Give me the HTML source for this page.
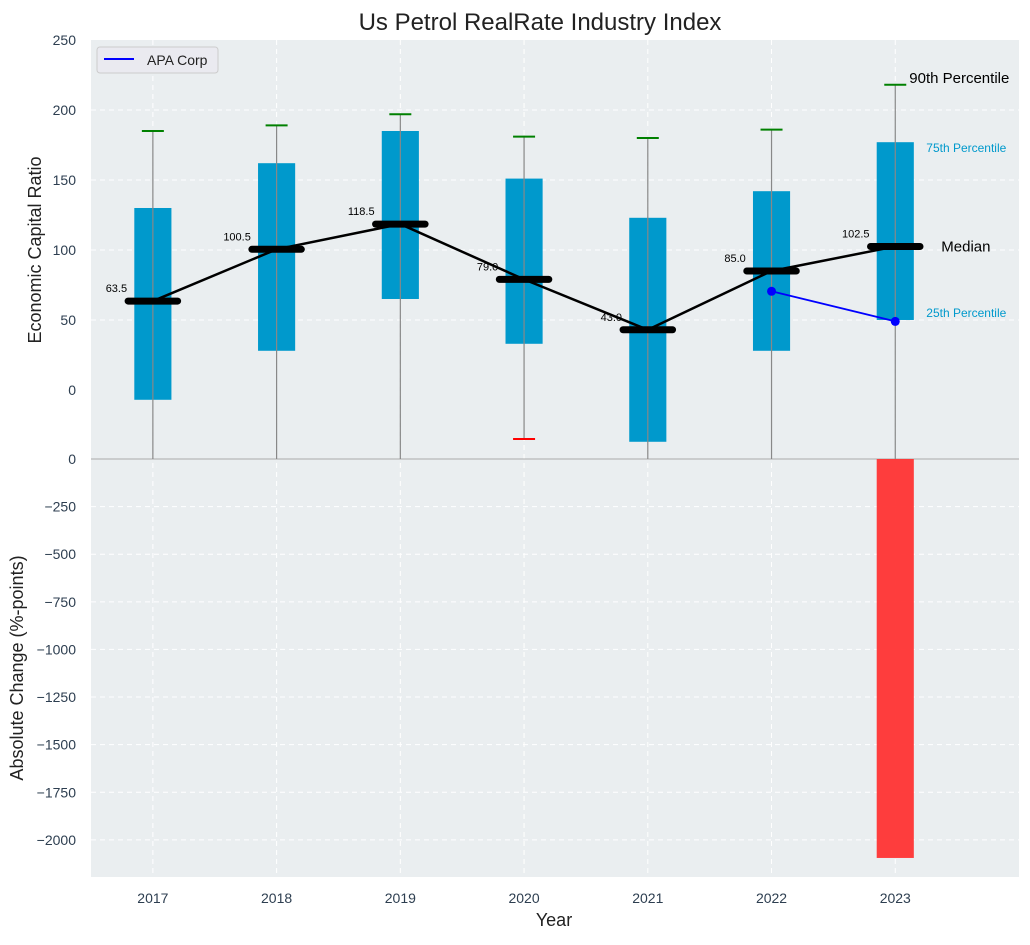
<!DOCTYPE html>
<html><head><meta charset="utf-8"><style>
body{margin:0;background:#fff;font-family:"Liberation Sans",sans-serif}
svg text{font-family:"Liberation Sans",sans-serif}
</style></head><body>
<svg id="chart" width="1030" height="940" viewBox="0 0 1030 940">
<text x="540" y="30" font-size="24" text-anchor="middle" fill="#222">Us Petrol RealRate Industry Index</text>
</svg>
<script>
const years=['2017','2018','2019','2020','2021','2022','2023'];
const medians=[63.5,100.5,118.5,79.0,43.0,85.0,102.5];
const q25=[-7,28,65,33,-37,28,50];
const q75=[130,162,185,151,123,142,177];
const p90=[185,189,197,181,180,186,218];
const p10=[-60,-60,-60,-35,-60,-60,-60];
const apaYears=[5,6];
const apaValues=[70.5,49];
const changeValues=[0,0,0,0,0,0,-2095];
const topTicks=[0,50,100,150,200,250];
const botTicks=[0,-250,-500,-750,-1000,-1250,-1500,-1750,-2000];

const NS='http://www.w3.org/2000/svg';
const svg=document.getElementById('chart');
function el(tag,attrs,parent){const e=document.createElementNS(NS,tag);for(const k in attrs)e.setAttribute(k,attrs[k]);(parent||svg).appendChild(e);return e;}
const L=91,R=1019;
const X=i=>L+(i+0.5)/7.5*(R-L);
const TT=40,TB=459;
const Yt=v=>TT+(250-v)/(250-(-49.3))*(TB-TT);
const BT=459,BB=877;
const Yb=v=>BT+(0-v)/(2195)*(BB-BT);

let r=el('rect',{x:L,y:TT,width:R-L,height:TB-TT,fill:'#eaeef0'});

r=el('rect',{x:L,y:BT,width:R-L,height:BB-BT,fill:'#eaeef0'});


topTicks.forEach(t=>{
  if(t>0&&t<250) el('line',{x1:L,x2:R,y1:Yt(t),y2:Yt(t),stroke:'#fff','stroke-dasharray':'5,4','stroke-width':1});
  const tx=el('text',{x:76,y:Yt(t)+5,'font-size':14,'text-anchor':'end',fill:'#2d3e50'});tx.textContent=t;
  
});
botTicks.forEach(t=>{
  if(t<0) el('line',{x1:L,x2:R,y1:Yb(t),y2:Yb(t),stroke:'#fff','stroke-dasharray':'5,4','stroke-width':1});
  const tx=el('text',{x:76,y:Yb(t)+5,'font-size':14,'text-anchor':'end',fill:'#2d3e50'});tx.textContent=t<0?'\u2212'+(-t):'0';
  
});
years.forEach((y,i)=>{
  el('line',{x1:X(i),x2:X(i),y1:TT,y2:BB,stroke:'#fff','stroke-dasharray':'5,4','stroke-width':1});
  const tx=el('text',{x:X(i),y:903,'font-size':14,'text-anchor':'middle',fill:'#2d3e50'});tx.textContent=y;
  
});
el('line',{x1:L,x2:R,y1:TB,y2:TB,stroke:'#aaa','stroke-width':1});

years.forEach((y,i)=>{
  const g=el('g',{});
  
  const bw=0.3/7.5*(R-L);
  el('rect',{x:X(i)-bw/2,y:Yt(q75[i]),width:bw,height:Yt(q25[i])-Yt(q75[i]),fill:'#0099cc'},g);
  const lo=Math.max(p10[i],-49.3);
  el('line',{x1:X(i),x2:X(i),y1:Yt(p90[i]),y2:Yt(lo),stroke:'#888','stroke-width':1.2},g);
  el('line',{x1:X(i)-11,x2:X(i)+11,y1:Yt(p90[i]),y2:Yt(p90[i]),stroke:'green','stroke-width':2},g);
  if(p10[i]>-49.3) el('line',{x1:X(i)-11,x2:X(i)+11,y1:Yt(p10[i]),y2:Yt(p10[i]),stroke:'red','stroke-width':2},g);
});
const pts=medians.map((m,i)=>X(i)+','+Yt(m)).join(' ');
let pl=el('polyline',{points:pts,fill:'none',stroke:'#000','stroke-width':2.5});

medians.forEach((m,i)=>{
  const hw=0.2/7.5*(R-L);
  const ln=el('line',{x1:X(i)-hw,x2:X(i)+hw,y1:Yt(m),y2:Yt(m),stroke:'#000','stroke-width':7,'stroke-linecap':'round'});
  
  const tx=el('text',{x:X(i)-hw-1,y:Yt(m)-9,'font-size':11,'text-anchor':'end',fill:'#000'});tx.textContent=m.toFixed(1);
  
});
const apts=apaYears.map((k,j)=>X(k)+','+Yt(apaValues[j])).join(' ');
pl=el('polyline',{points:apts,fill:'none',stroke:'blue','stroke-width':1.8});

apaYears.forEach((k,j)=>{const c=el('circle',{cx:X(k),cy:Yt(apaValues[j]),r:4.5,fill:'blue'});
  });
const last=6;
[['90th Percentile',X(last)+14,Yt(p90[last])-2,15,'#000','annotation-90th'],
 ['75th Percentile',X(last)+31,Yt(q75[last])+10,12,'#0099cc','annotation-75th'],
 ['Median',X(last)+46,Yt(medians[last])+5,15,'#000','annotation-median'],
 ['25th Percentile',X(last)+31,Yt(q25[last])-3,12,'#0099cc','annotation-25th']].forEach(a=>{
  const tx=el('text',{x:a[1],y:a[2],'font-size':a[3],fill:a[4]});tx.textContent=a[0];
  
});
changeValues.forEach((v,i)=>{
  if(v===0)return;
  const bw=0.3/7.5*(R-L);
  const b=el('rect',{x:X(i)-bw/2,y:Yb(0),width:bw,height:Yb(v)-Yb(0),fill:'#ff3333',opacity:0.95});
  
});
const lg=el('g',{});
el('rect',{x:97,y:47,width:121,height:26,rx:3,fill:'#eaeaf0',stroke:'#ccc'},lg);
el('line',{x1:104,x2:134,y1:59,y2:59,stroke:'blue','stroke-width':2},lg);
let tx=el('text',{x:147,y:65,'font-size':14,fill:'#222'},lg);tx.textContent='APA Corp';
tx=el('text',{x:0,y:0,'font-size':18,'text-anchor':'middle',fill:'#222',transform:'translate(41,250) rotate(-90)'});tx.textContent='Economic Capital Ratio';

tx=el('text',{x:0,y:0,'font-size':18,'text-anchor':'middle',fill:'#222',transform:'translate(23,668) rotate(-90)'});tx.textContent='Absolute Change (%-points)';

tx=el('text',{x:554,y:926,'font-size':18,'text-anchor':'middle',fill:'#222'});tx.textContent='Year';

</script>
</body></html>
